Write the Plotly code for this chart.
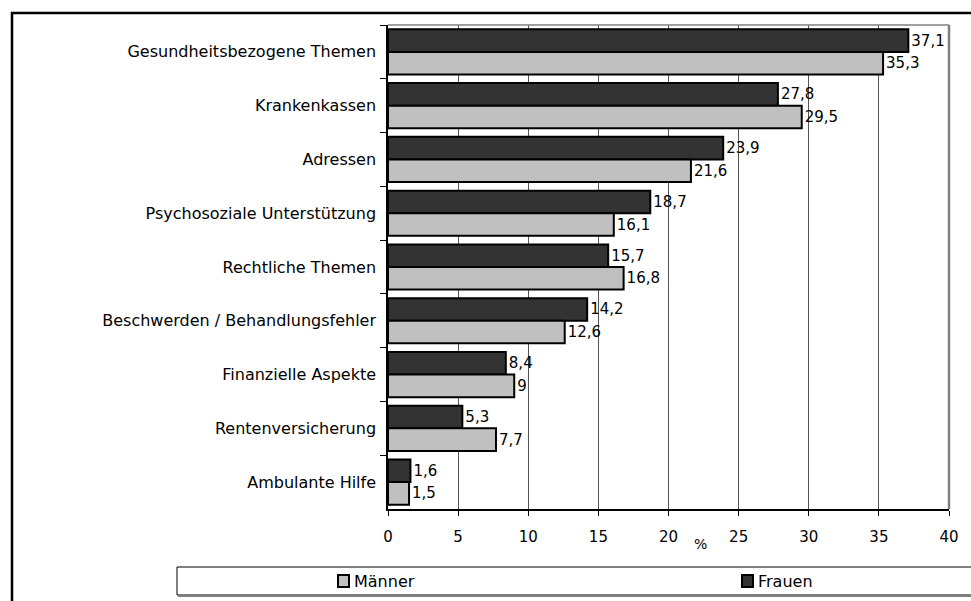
import plotly.graph_objects as go

# Themen der Anfragen, Anteil in Prozent
categories = [
    "Gesundheitsbezogene Themen",
    "Krankenkassen",
    "Adressen",
    "Psychosoziale Unterstützung",
    "Rechtliche Themen",
    "Beschwerden / Behandlungsfehler",
    "Finanzielle Aspekte",
    "Rentenversicherung",
    "Ambulante Hilfe",
]
frauen = [37.1, 27.8, 23.9, 18.7, 15.7, 14.2, 8.4, 5.3, 1.6]
maenner = [35.3, 29.5, 21.6, 16.1, 16.8, 12.6, 9, 7.7, 1.5]
x_ticks = [0, 5, 10, 15, 20, 25, 30, 35, 40]

DARK = "#333333"
LIGHT = "#c0c0c0"

W, H = 971, 601
L, R, T, B = 388, 949, 25, 509
FONT = "DejaVu Sans"
FS = 15


def px_x(p):
    return (p - L) / (R - L)


def px_y(p):
    return (B - p) / (B - T)


def de(v):
    return f"{v:g}".replace(".", ",")


fig = go.Figure()
fig.add_trace(go.Bar(
    name="Frauen", y=categories, x=frauen, orientation="h",
    marker=dict(color=DARK, line=dict(color="black", width=2)),
    text=[de(v) for v in frauen], textposition="outside", cliponaxis=False,
    textfont=dict(size=FS, color="black", family=FONT),
))
fig.add_trace(go.Bar(
    name="Männer", y=categories, x=maenner, orientation="h",
    marker=dict(color=LIGHT, line=dict(color="black", width=2)),
    text=[de(v) for v in maenner], textposition="outside", cliponaxis=False,
    textfont=dict(size=FS, color="black", family=FONT),
))

shapes = [
    # outer frame
    dict(type="rect", xref="paper", yref="paper",
         x0=px_x(12), x1=px_x(1100), y0=px_y(700), y1=px_y(13),
         line=dict(color="black", width=2.5), layer="below"),
    # top and right border of the plot area
    dict(type="line", xref="paper", yref="paper",
         x0=0, x1=1, y0=1, y1=1, line=dict(color="#808080", width=1.5)),
    dict(type="line", xref="paper", yref="paper",
         x0=1, x1=1, y0=0, y1=1, line=dict(color="#808080", width=2.5)),
    # legend box
    dict(type="rect", xref="paper", yref="paper",
         x0=px_x(177), x1=px_x(1100), y0=px_y(595), y1=px_y(567),
         line=dict(color="black", width=1)),
    dict(type="line", xref="paper", yref="paper",
         x0=px_x(178), x1=px_x(1100), y0=px_y(596), y1=px_y(596),
         line=dict(color="#808080", width=2)),
]

annotations = [dict(
    text="%", xref="paper", yref="paper",
    x=px_x(700), y=px_y(544), showarrow=False,
    font=dict(size=14, family=FONT), xanchor="center", yanchor="middle",
)]

# legend entries: swatch + label
legend_items = [("Männer", LIGHT, 337), ("Frauen", DARK, 741)]
for name, color, x0 in legend_items:
    shapes.append(dict(
        type="rect", xref="paper", yref="paper",
        x0=px_x(x0 + 1), x1=px_x(x0 + 12), y0=px_y(587), y1=px_y(575),
        fillcolor=color, line=dict(color="black", width=2),
    ))
    annotations.append(dict(
        text=name, xref="paper", yref="paper",
        x=px_x(x0 + 15), y=px_y(581), showarrow=False,
        font=dict(size=16, family=FONT, color="black"),
        xanchor="left", yanchor="middle",
    ))

fig.update_layout(
    width=W, height=H,
    margin=dict(l=L, r=W - R, t=T, b=H - B, pad=0),
    paper_bgcolor="white", plot_bgcolor="white",
    barmode="group", bargap=0.16, bargroupgap=0,
    font=dict(family=FONT, size=FS, color="black"),
    showlegend=False,
    xaxis=dict(
        range=[0, 40], tickvals=x_ticks, ticktext=[str(t) for t in x_ticks],
        showgrid=True, gridcolor="#555555", gridwidth=1,
        showline=True, linecolor="black", linewidth=1.5,
        ticks="outside", ticklen=5, tickcolor="black",
        tickfont=dict(size=FS, family=FONT), zeroline=False,
        ticklabelstandoff=8,
        fixedrange=True,
    ),
    yaxis=dict(
        autorange="reversed", type="category",
        showline=True, linecolor="black", linewidth=1.5,
        ticks="outside", ticklen=6, tickcolor="black", tickson="boundaries",
        tickfont=dict(size=16, family=FONT), showgrid=False,
        ticklabelstandoff=7,
    ),
    shapes=shapes,
    annotations=annotations,
)

fig.write_html("out.html")
